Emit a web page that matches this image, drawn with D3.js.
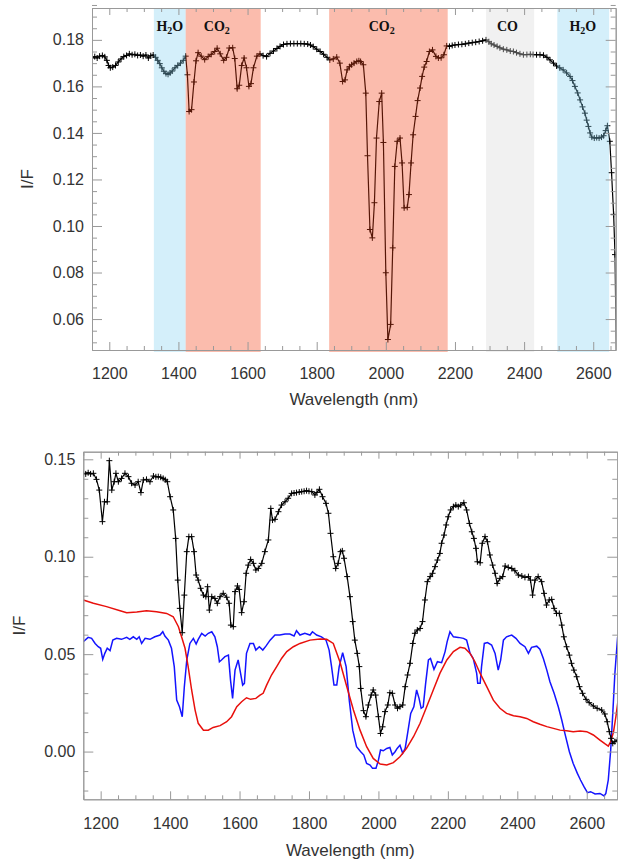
<!DOCTYPE html>
<html>
<head>
<meta charset="utf-8">
<script src="https://cdn.jsdelivr.net/npm/d3@7"></script>
<style>
  body { margin: 0; background: #fff; }
  svg { display: block; font-family: "Liberation Sans", Arial, Helvetica, sans-serif; }
  .axis path, .axis line { stroke: #999; stroke-width: 1; }
  .axis text { fill: #333; font-size: 16px; }
  .title { fill: #333; font-size: 17px; }
  .band-label { font-family: "Liberation Serif", "Times New Roman", serif; font-weight: bold; font-size: 14px; fill: #111; }
</style>
</head>
<body>
<svg id="chart" width="618" height="861"></svg>
<script>
// ---- data: top panel (observed spectrum) ----
const topSpectrum = [
  [1150,0.1722],[1158,0.1728],[1165,0.1722],[1172,0.1730],[1180,0.1733],[1187,0.1727],[1193,0.1712],[1198,0.1690],
  [1203,0.1680],[1210,0.1683],[1218,0.1690],[1226,0.1705],[1234,0.1718],[1242,0.1728],[1250,0.1733],[1258,0.1740],
  [1266,0.1736],[1274,0.1738],[1282,0.1733],[1290,0.1735],[1298,0.1730],[1306,0.1735],[1313,0.1722],[1320,0.1732],
  [1327,0.1735],[1334,0.1725],[1340,0.1712],[1346,0.1698],[1352,0.1680],[1358,0.1665],[1364,0.1655],[1370,0.1652],
  [1376,0.1658],[1382,0.1666],[1390,0.1680],[1398,0.1690],[1406,0.1700],[1414,0.1712],[1421,0.1730],[1426,0.1650],
  [1431,0.1492],[1438,0.1500],[1445,0.1619],[1451,0.1710],[1457,0.1745],[1466,0.1730],[1476,0.1715],[1486,0.1728],
  [1495,0.1738],[1505,0.1750],[1512,0.1764],[1521,0.1740],[1531,0.1712],[1539,0.1725],[1547,0.1765],[1557,0.1766],
  [1563,0.1720],[1570,0.1590],[1576,0.1605],[1583,0.1690],[1590,0.1722],[1597,0.1680],[1604,0.1600],[1610,0.1612],
  [1617,0.1680],[1627,0.1730],[1636,0.1740],[1645,0.1732],[1655,0.1728],[1665,0.1742],[1675,0.1752],[1685,0.1763],
  [1694,0.1772],[1704,0.1780],[1714,0.1783],[1724,0.1784],[1734,0.1784],[1744,0.1784],[1754,0.1784],[1764,0.1783],
  [1774,0.1782],[1782,0.1778],[1790,0.1771],[1800,0.1760],[1810,0.1750],[1820,0.1738],[1830,0.1725],[1838,0.1714],
  [1848,0.1718],[1858,0.1726],[1867,0.1700],[1875,0.1621],[1882,0.1628],[1888,0.1671],[1895,0.1685],[1901,0.1693],
  [1908,0.1700],[1916,0.1707],[1922,0.1710],[1927,0.1707],[1935,0.1693],[1942,0.1571],[1947,0.1302],[1954,0.0985],
  [1961,0.0949],[1967,0.1100],[1973,0.1378],[1981,0.1535],[1988,0.1571],[1993,0.1359],[2000,0.0799],[2006,0.0512],
  [2014,0.0577],[2020,0.0906],[2026,0.1256],[2033,0.1364],[2041,0.1378],[2047,0.1271],[2053,0.1078],[2062,0.1080],
  [2067,0.1135],[2073,0.1271],[2079,0.1392],[2086,0.1471],[2092,0.1539],[2099,0.1593],[2105,0.1643],[2111,0.1683],
  [2118,0.1707],[2126,0.1750],[2135,0.1757],[2145,0.1729],[2152,0.1722],[2160,0.1723],[2168,0.1736],[2176,0.1774],
  [2184,0.1772],[2192,0.1776],[2200,0.1778],[2210,0.1780],[2220,0.1781],[2230,0.1783],[2240,0.1786],[2250,0.1788],
  [2260,0.1790],[2270,0.1793],[2280,0.1796],[2290,0.1800],[2298,0.1792],[2305,0.1783],[2313,0.1778],[2322,0.1772],
  [2330,0.1766],[2340,0.1760],[2350,0.1757],[2360,0.1752],[2369,0.1750],[2378,0.1745],[2388,0.1740],[2398,0.1736],
  [2408,0.1737],[2418,0.1738],[2426,0.1737],[2436,0.1736],[2446,0.1736],[2456,0.1734],[2466,0.1725],[2475,0.1714],
  [2485,0.1700],[2494,0.1688],[2503,0.1680],[2513,0.1671],[2523,0.1658],[2533,0.1643],[2540,0.1625],[2547,0.1600],
  [2555,0.1572],[2562,0.1542],[2569,0.1512],[2576,0.1485],[2581,0.1455],[2586,0.1428],[2591,0.1400],[2596,0.1382],
  [2603,0.1378],[2610,0.1380],[2617,0.1378],[2624,0.1382],[2630,0.1388],[2636,0.1410],[2641,0.1431],[2648,0.1364],
  [2653,0.1229],[2659,0.1050],[2663,0.0877],[2668,0.0300]
];

// absorption bands (nm) and their labels
const bandGas    = ["H2O", "CO2", "CO2", "CO", "H2O"];
const bandStart  = [1329, 1421, 1836, 2290, 2496];
const bandEnd    = [1421, 1638, 2179, 2429, 2646];
const bandLabelX = [1375, 1511, 1988, 2352, 2570];

// ---- data: bottom panel ----
const obsSpectrum = [
  [1150,0.1428],[1157,0.1425],[1164,0.1431],[1171,0.1425],[1179,0.1428],[1188,0.1397],[1196,0.1342],[1205,0.1180],
  [1211,0.1282],[1219,0.1282],[1225,0.1493],[1232,0.1342],[1239,0.1385],[1244,0.1428],[1251,0.1385],[1260,0.1402],
  [1270,0.1428],[1280,0.1411],[1289,0.1377],[1299,0.1368],[1308,0.1385],[1316,0.1329],[1323,0.1394],[1332,0.1397],
  [1342,0.1385],[1352,0.1414],[1359,0.1410],[1366,0.1411],[1373,0.1408],[1380,0.1402],[1386,0.1395],[1392,0.1385],
  [1400,0.1308],[1409,0.1240],[1416,0.1094],[1422,0.0880],[1428,0.0735],[1435,0.0610],[1441,0.0803],[1448,0.1026],
  [1454,0.1103],[1462,0.1103],[1469,0.1026],[1475,0.0906],[1481,0.0880],[1488,0.0838],[1496,0.0803],[1503,0.0795],
  [1508,0.0846],[1513,0.0726],[1520,0.0795],[1529,0.0786],[1536,0.0761],[1544,0.0795],[1553,0.0812],[1563,0.0792],
  [1570,0.0761],[1575,0.0649],[1582,0.0641],[1587,0.0821],[1594,0.0850],[1599,0.0832],[1606,0.0713],[1613,0.0769],
  [1619,0.0915],[1625,0.0957],[1632,0.0986],[1640,0.0966],[1647,0.0932],[1654,0.0940],[1664,0.0966],[1673,0.1026],
  [1683,0.1086],[1690,0.1248],[1695,0.1188],[1702,0.1192],[1712,0.1231],[1721,0.1265],[1731,0.1282],[1740,0.1300],
  [1750,0.1325],[1757,0.1327],[1764,0.1329],[1772,0.1332],[1779,0.1334],[1786,0.1336],[1793,0.1339],[1800,0.1336],
  [1808,0.1334],[1817,0.1317],[1823,0.1330],[1830,0.1346],[1839,0.1308],[1849,0.1274],[1856,0.1223],[1862,0.1120],
  [1870,0.1000],[1877,0.0940],[1884,0.0966],[1891,0.1026],[1896,0.1030],[1901,0.0992],[1910,0.0898],[1918,0.0795],
  [1926,0.0667],[1932,0.0572],[1939,0.0504],[1945,0.0436],[1949,0.0324],[1957,0.0210],[1964,0.0179],[1971,0.0239],
  [1979,0.0290],[1985,0.0316],[1992,0.0290],[2000,0.0179],[2006,0.0093],[2012,0.0127],[2019,0.0205],[2027,0.0239],
  [2033,0.0302],[2040,0.0299],[2048,0.0239],[2055,0.0222],[2062,0.0230],[2070,0.0239],[2077,0.0333],[2084,0.0393],
  [2091,0.0453],[2099,0.0555],[2105,0.0607],[2112,0.0624],[2120,0.0632],[2127,0.0667],[2134,0.0778],[2141,0.0872],
  [2149,0.0898],[2156,0.0915],[2163,0.0949],[2170,0.0983],[2177,0.1017],[2182,0.1069],[2189,0.1111],[2195,0.1163],
  [2201,0.1205],[2208,0.1240],[2216,0.1257],[2223,0.1265],[2230,0.1257],[2237,0.1265],[2246,0.1277],[2254,0.1240],
  [2262,0.1171],[2269,0.1128],[2275,0.1094],[2281,0.1043],[2285,0.0974],[2293,0.0969],[2299,0.1069],[2307,0.1103],
  [2314,0.1077],[2321,0.1009],[2329,0.0957],[2336,0.0915],[2342,0.0863],[2350,0.0889],[2358,0.0898],[2365,0.0952],
  [2374,0.0945],[2384,0.0940],[2393,0.0928],[2403,0.0906],[2413,0.0901],[2422,0.0894],[2432,0.0898],[2438,0.0880],
  [2444,0.0803],[2451,0.0880],[2460,0.0898],[2470,0.0872],[2477,0.0812],[2484,0.0752],[2492,0.0778],[2499,0.0781],
  [2506,0.0735],[2513,0.0709],[2521,0.0709],[2528,0.0649],[2534,0.0589],[2542,0.0538],[2550,0.0495],[2556,0.0453],
  [2563,0.0418],[2571,0.0384],[2579,0.0333],[2588,0.0299],[2598,0.0268],[2607,0.0251],[2619,0.0234],[2630,0.0222],
  [2643,0.0213],[2652,0.0193],[2659,0.0153],[2665,0.0102],[2670,0.0068],[2675,0.0042],[2681,0.0051],[2688,0.0059]
];

const redModel = [
  [1150,0.0778],[1179,0.0761],[1217,0.0744],[1256,0.0723],[1275,0.0713],[1304,0.0716],[1332,0.0723],[1361,0.0718],
  [1390,0.0709],[1409,0.0692],[1424,0.0641],[1433,0.0589],[1443,0.0530],[1452,0.0436],[1462,0.0316],[1472,0.0213],
  [1481,0.0145],[1496,0.0110],[1510,0.0110],[1524,0.0124],[1544,0.0133],[1563,0.0153],[1577,0.0179],[1592,0.0230],
  [1606,0.0256],[1620,0.0276],[1632,0.0268],[1647,0.0273],[1659,0.0290],[1668,0.0299],[1678,0.0341],[1692,0.0393],
  [1707,0.0436],[1721,0.0478],[1736,0.0513],[1755,0.0538],[1774,0.0555],[1803,0.0572],[1832,0.0578],[1851,0.0576],
  [1870,0.0555],[1889,0.0461],[1909,0.0333],[1928,0.0213],[1947,0.0110],[1966,0.0025],[1985,-0.0035],[2005,-0.0064],
  [2024,-0.0069],[2043,-0.0057],[2062,-0.0027],[2081,0.0016],[2101,0.0076],[2120,0.0145],[2139,0.0230],[2158,0.0316],
  [2177,0.0401],[2197,0.0470],[2216,0.0513],[2235,0.0535],[2249,0.0530],[2264,0.0504],[2278,0.0461],[2293,0.0401],
  [2312,0.0333],[2331,0.0264],[2350,0.0222],[2369,0.0196],[2389,0.0184],[2408,0.0179],[2427,0.0170],[2446,0.0153],
  [2465,0.0140],[2485,0.0128],[2504,0.0119],[2523,0.0110],[2542,0.0107],[2561,0.0102],[2581,0.0105],[2600,0.0102],
  [2619,0.0085],[2638,0.0059],[2653,0.0039],[2662,0.0028],[2669,0.0051],[2677,0.0100],[2684,0.0180],[2690,0.0260]
];

const blueModel = [
  [1150,0.0564],[1164,0.0586],[1174,0.0581],[1184,0.0555],[1193,0.0538],[1200,0.0530],[1206,0.0473],[1212,0.0504],
  [1219,0.0530],[1227,0.0518],[1235,0.0572],[1246,0.0581],[1260,0.0576],[1275,0.0586],[1284,0.0576],[1294,0.0589],
  [1304,0.0576],[1311,0.0589],[1318,0.0555],[1328,0.0581],[1342,0.0576],[1356,0.0589],[1371,0.0598],[1379,0.0615],
  [1385,0.0593],[1395,0.0572],[1404,0.0530],[1412,0.0436],[1419,0.0264],[1427,0.0230],[1435,0.0179],[1441,0.0333],
  [1448,0.0470],[1457,0.0555],[1467,0.0581],[1475,0.0552],[1481,0.0576],[1491,0.0607],[1501,0.0593],[1510,0.0607],
  [1520,0.0615],[1529,0.0589],[1536,0.0538],[1542,0.0461],[1548,0.0470],[1558,0.0487],[1568,0.0495],[1574,0.0367],
  [1580,0.0273],[1587,0.0418],[1596,0.0470],[1603,0.0401],[1609,0.0341],[1614,0.0350],[1620,0.0504],[1630,0.0555],
  [1640,0.0555],[1647,0.0521],[1657,0.0538],[1667,0.0521],[1676,0.0541],[1688,0.0572],[1702,0.0598],[1716,0.0598],
  [1731,0.0603],[1745,0.0603],[1757,0.0593],[1764,0.0620],[1774,0.0598],[1788,0.0607],[1803,0.0598],[1810,0.0615],
  [1822,0.0598],[1836,0.0589],[1849,0.0572],[1858,0.0521],[1865,0.0436],[1872,0.0341],[1880,0.0341],[1887,0.0436],
  [1897,0.0507],[1907,0.0436],[1916,0.0264],[1926,0.0110],[1937,0.0025],[1949,-0.0001],[1958,-0.0018],[1966,-0.0061],
  [1976,-0.0069],[1983,-0.0086],[1993,-0.0086],[2000,-0.0044],[2006,0.0008],[2014,0.0004],[2024,0.0016],[2033,0.0021],
  [2040,-0.0018],[2048,-0.0001],[2054,0.0016],[2062,0.0033],[2070,-0.0009],[2077,0.0016],[2084,0.0093],[2093,0.0196],
  [2102,0.0230],[2110,0.0316],[2117,0.0273],[2123,0.0222],[2129,0.0230],[2136,0.0350],[2144,0.0470],[2150,0.0478],
  [2160,0.0422],[2170,0.0461],[2182,0.0456],[2192,0.0513],[2198,0.0564],[2206,0.0615],[2216,0.0589],[2230,0.0586],
  [2245,0.0581],[2254,0.0572],[2264,0.0504],[2273,0.0478],[2283,0.0401],[2286,0.0350],[2293,0.0350],[2297,0.0436],
  [2305,0.0555],[2314,0.0559],[2326,0.0547],[2336,0.0504],[2345,0.0418],[2352,0.0470],[2360,0.0572],[2369,0.0589],
  [2384,0.0598],[2396,0.0581],[2408,0.0555],[2422,0.0538],[2432,0.0504],[2441,0.0535],[2456,0.0541],[2465,0.0525],
  [2475,0.0478],[2485,0.0418],[2494,0.0358],[2506,0.0299],[2518,0.0230],[2528,0.0162],[2537,0.0093],[2550,-0.0001],
  [2561,-0.0061],[2573,-0.0112],[2582,-0.0146],[2592,-0.0180],[2602,-0.0211],[2611,-0.0206],[2624,-0.0218],[2638,-0.0215],
  [2650,-0.0228],[2655,-0.0215],[2662,-0.0146],[2669,0.0008],[2675,0.0196],[2681,0.0401],[2689,0.0589]
];

// ticks
const xMajorTicks = [1200, 1400, 1600, 1800, 2000, 2200, 2400, 2600];
const topYTicks = [0.06, 0.08, 0.10, 0.12, 0.14, 0.16, 0.18];
const botYTicks = [0.00, 0.05, 0.10, 0.15];

const svg = d3.select('#chart');

const bandColors = { H2O: 'rgb(132,209,241)', CO2: 'rgb(243,64,21)', CO: 'rgb(215,215,215)' };

function drawAxes(g, x, y, box, yMinor, yFmt) {
  const xMinor = d3.range(1150, 2700, 50).filter(v => xMajorTicks.indexOf(v) < 0);

  // bottom
  g.append('g').attr('class', 'axis').attr('transform', `translate(0,${box.bottom})`)
    .call(d3.axisBottom(x).tickValues(xMajorTicks).tickSizeInner(-8).tickSizeOuter(0)
      .tickPadding(18).tickFormat(d3.format('d')));
  g.append('g').attr('class', 'axis').attr('transform', `translate(0,${box.bottom})`)
    .call(d3.axisBottom(x).tickValues(xMinor).tickSizeInner(-4).tickSizeOuter(0).tickFormat(''));
  // top
  g.append('g').attr('class', 'axis').attr('transform', `translate(0,${box.top})`)
    .call(d3.axisTop(x).tickValues(xMajorTicks).tickSizeInner(-7).tickSizeOuter(0).tickFormat(''));
  g.append('g').attr('class', 'axis').attr('transform', `translate(0,${box.top})`)
    .call(d3.axisTop(x).tickValues(xMinor).tickSizeInner(-4).tickSizeOuter(0).tickFormat(''));
  // left
  g.append('g').attr('class', 'axis').attr('transform', `translate(${box.left},0)`)
    .call(d3.axisLeft(y).tickValues(box.yTicks).tickSizeInner(-10).tickSizeOuter(0)
      .tickPadding(8).tickFormat(yFmt));
  g.append('g').attr('class', 'axis').attr('transform', `translate(${box.left},0)`)
    .call(d3.axisLeft(y).tickValues(yMinor).tickSizeInner(-5).tickSizeOuter(0).tickFormat(''));
  // right
  g.append('g').attr('class', 'axis').attr('transform', `translate(${box.right},0)`)
    .call(d3.axisRight(y).tickValues(box.yTicks).tickSizeInner(-10).tickSizeOuter(0).tickFormat(''));
  g.append('g').attr('class', 'axis').attr('transform', `translate(${box.right},0)`)
    .call(d3.axisRight(y).tickValues(yMinor).tickSizeInner(-5).tickSizeOuter(0).tickFormat(''));

  // titles
  g.append('text').attr('class', 'title')
    .attr('x', (box.left + box.right) / 2).attr('y', box.bottom + box.titleGap)
    .attr('text-anchor', 'middle').text('Wavelength (nm)');
  g.append('text').attr('class', 'title')
    .attr('transform', `translate(${box.yTitleX},${(box.top + box.bottom) / 2}) rotate(-90)`)
    .attr('text-anchor', 'middle').text('I/F');
}

function drawSpectrum(g, data, x, y, clipId) {
  const line = d3.line().x(d => x(d[0])).y(d => y(d[1]));
  const s = g.append('g').attr('clip-path', `url(#${clipId})`);
  s.append('path').datum(data)
    .attr('d', line).attr('fill', 'none').attr('stroke', '#000').attr('stroke-width', 1.2);
  s.selectAll('path.mark').data(data).enter().append('path')
    .attr('class', 'mark')
    .attr('transform', d => `translate(${x(d[0])},${y(d[1])})`)
    .attr('d', 'M-3,0H3M0,-3V3')
    .attr('stroke', '#000').attr('stroke-width', 1);
}

function addClip(id, box) {
  svg.append('clipPath').attr('id', id).append('rect')
    .attr('x', box.left).attr('y', box.top)
    .attr('width', box.right - box.left).attr('height', box.bottom - box.top);
}

// ---------- top panel ----------
(function() {
  const box = { left: 92, right: 615.7, top: 8, bottom: 350, yTicks: topYTicks, titleGap: 55, yTitleX: 33 };
  const x = d3.scaleLinear().domain([1150, 2665]).range([box.left, box.right]);
  const y = d3.scaleLinear().domain([0.0467, 0.1937]).range([box.bottom, box.top]);
  const g = svg.append('g');
  addClip('clipTop', box);

  drawSpectrum(g, topSpectrum, x, y, 'clipTop');

  // bands drawn translucent over the spectrum
  g.append('g').selectAll('rect').data(bandStart).enter().append('rect')
    .attr('x', (d, i) => x(d))
    .attr('width', (d, i) => x(bandEnd[i]) - x(d))
    .attr('y', box.top)
    .attr('height', box.bottom - box.top + 2)
    .attr('fill', (d, i) => bandColors[bandGas[i]])
    .attr('fill-opacity', 0.35);

  const yMinor = d3.range(0.05, 0.195, 0.005).map(v => +v.toFixed(3))
    .filter(v => topYTicks.every(t => Math.abs(t - v) > 1e-6));
  drawAxes(g, x, y, box, yMinor, d3.format('.2f'));

  // band labels with subscripts
  const lbl = g.append('g').selectAll('text').data(bandGas).enter().append('text')
    .attr('class', 'band-label')
    .attr('x', (d, i) => x(bandLabelX[i])).attr('y', 31)
    .attr('text-anchor', 'middle');
  lbl.each(function(d) {
    const t = d3.select(this);
    const m = d.match(/^([A-Z]+)(\d)?([A-Z]*)$/);
    t.append('tspan').text(m[1]);
    if (m[2]) {
      t.append('tspan').attr('font-size', '10px').attr('dy', 3).text(m[2]);
      if (m[3]) t.append('tspan').attr('dy', -3).text(m[3]);
    }
  });
})();

// ---------- bottom panel ----------
(function() {
  const box = { left: 83.3, right: 617.3, top: 451.7, bottom: 799.3, yTicks: botYTicks, titleGap: 57, yTitleX: 25 };
  const x = d3.scaleLinear().domain([1150, 2688]).range([box.left, box.right]);
  const y = d3.scaleLinear().domain([-0.0245, 0.1539]).range([box.bottom, box.top]);
  const g = svg.append('g');
  addClip('clipBot', box);

  const line = d3.line().x(d => x(d[0])).y(d => y(d[1]));
  const models = g.append('g').attr('clip-path', 'url(#clipBot)');
  models.append('path').datum(blueModel).attr('d', line)
    .attr('fill', 'none').attr('stroke', '#1414ff').attr('stroke-width', 1.5);
  models.append('path').datum(redModel).attr('d', line)
    .attr('fill', 'none').attr('stroke', '#e8100c').attr('stroke-width', 1.5);

  drawSpectrum(g, obsSpectrum, x, y, 'clipBot');

  const yMinor = d3.range(-0.02, 0.155, 0.01).map(v => +v.toFixed(3))
    .filter(v => botYTicks.every(t => Math.abs(t - v) > 1e-6));
  drawAxes(g, x, y, box, yMinor, d3.format('.2f'));
})();
</script>
</body>
</html>
